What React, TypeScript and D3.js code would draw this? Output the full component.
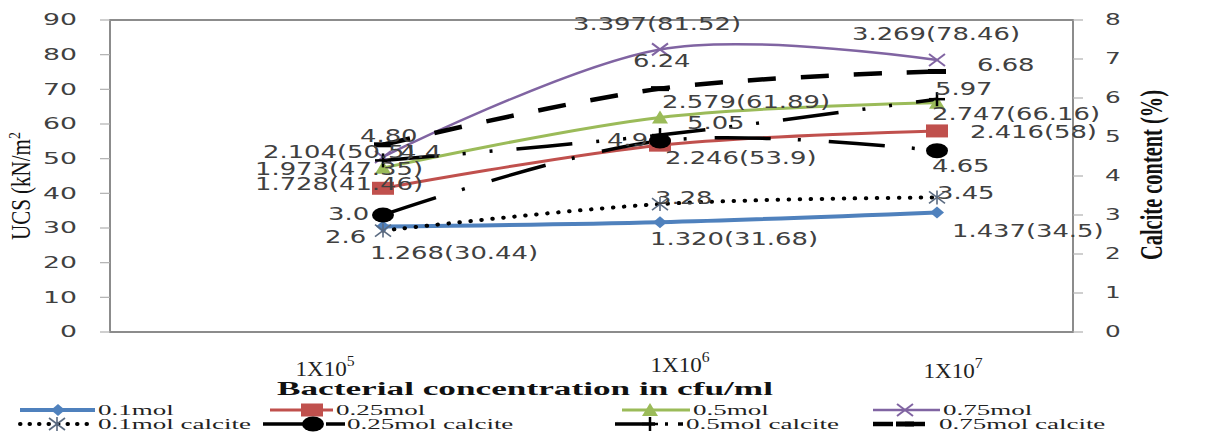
import React from "react";
import * as d3 from "d3";

// ---------- data ----------
const categoryExponents = ["5", "6", "7"];

const ucs01 = [30.44, 31.68, 34.5];
const ucs025 = [41.46, 53.9, 58];
const ucs05 = [47.35, 61.89, 66.16];
const ucs075 = [50.5, 81.52, 78.46];

const ratio01 = [1.268, 1.32, 1.437];
const ratio025 = [1.728, 2.246, 2.416];
const ratio05 = [1.973, 2.579, 2.747];
const ratio075 = [2.104, 3.397, 3.269];

const calc01 = [2.6, 3.28, 3.45];
const calc025 = [3.0, 4.9, 4.65];
const calc05 = [4.4, 5.05, 5.97];
const calc075 = [4.8, 6.24, 6.68];

const calcLabels01 = ["2.6", "3.28", "3.45"];
const calcLabels025 = ["3.0", "4.9", "4.65"];
const calcLabels05 = ["4.4", "5.05", "5.97"];
const calcLabels075 = ["4.80", "6.24", "6.68"];

const leftTicks = [0, 10, 20, 30, 40, 50, 60, 70, 80, 90];
const rightTicks = [0, 1, 2, 3, 4, 5, 6, 7, 8];

// ---------- layout / style ----------
const W = 1208;
const H = 439;
const PL = 110, PR = 1073, PT = 20, PB = 332;

const SANS = "'DejaVu Sans', Verdana, sans-serif";
const SERIF = "'Liberation Serif', 'Times New Roman', serif";

const x = d3.scalePoint<string>().domain(categoryExponents).range([PL + 273, PR - 136]);
const yL = d3.scaleLinear().domain([0, 90]).range([PB, PT]);
const yR = d3.scaleLinear().domain([0, 8]).range([PB, PT]);

type Off = [number, number];

const ucsLabel = (r: number[], v: number[]) => v.map((d, i) => `${r[i].toFixed(3)}(${d})`);

const series = [
  { name: "0.1mol", values: ucs01, y: yL, color: "#4f81bd", width: 4, dash: "", cap: "butt", marker: "diamond",
    labels: ucsLabel(ratio01, ucs01), offsets: [[-13, 33], [-10, 23], [15, 25]] as Off[] },
  { name: "0.25mol", values: ucs025, y: yL, color: "#c0504d", width: 3, dash: "", cap: "butt", marker: "square",
    labels: ucsLabel(ratio025, ucs025), offsets: [[-128, 2], [5, 19], [33, 7]] as Off[] },
  { name: "0.5mol", values: ucs05, y: yL, color: "#9bbb59", width: 3, dash: "", cap: "butt", marker: "triangle",
    labels: ucsLabel(ratio05, ucs05), offsets: [[-128, 7], [2, -9], [-5, 17]] as Off[] },
  { name: "0.75mol", values: ucs075, y: yL, color: "#8064a2", width: 2.5, dash: "", cap: "butt", marker: "xmark",
    labels: ucsLabel(ratio075, ucs075), offsets: [[-120, 1], [-87, -19], [-85, -20]] as Off[] },
  { name: "0.1mol calcite", values: calc01, y: yR, color: "#000000", width: 4, dash: "0.5 10.5", cap: "round", marker: "star",
    labels: calcLabels01, offsets: [[-58, 12], [-5, 0], [0, 2]] as Off[] },
  { name: "0.25mol calcite", values: calc025, y: yR, color: "#000000", width: 3.5, dash: "56 27 3 28", cap: "butt", marker: "circle",
    labels: calcLabels025, offsets: [[-55, 5], [-53, 5], [-5, 21]] as Off[] },
  { name: "0.5mol calcite", values: calc05, y: yR, color: "#000000", width: 3.5, dash: "56 24 3 24 3 24", cap: "butt", marker: "plus",
    labels: calcLabels05, offsets: [[17, -2], [27, -6], [-2, -4]] as Off[] },
  { name: "0.75mol calcite", values: calc075, y: yR, color: "#000000", width: 4.5, dash: "28 25", cap: "butt", marker: "dash",
    labels: calcLabels075, offsets: [[-23, -3], [-27, -22], [40, 0]] as Off[] },
];

// legend layout: [lineX0, lineX1, markerX, textX, row]
const legendLayout: [number, number, number, number, number][] = [
  [20, 95, 58, 98, 0],
  [270, 333, 312, 336, 0],
  [622, 690, 650, 693, 0],
  [873, 940, 905, 943, 0],
  [20, 95, 57, 98, 1],
  [263, 345, 313, 347, 1],
  [615, 683, 650, 686, 1],
  [873, 935, 905, 939, 1],
];
const legendLineY = [410, 424];
const legendTextY = [415, 429];

const xLabelOffsets: Off[] = [[-58, 0], [20, -4], [16, 2]];

function Marker({ type, cx, cy, color }: { type: string; cx: number; cy: number; color: string }) {
  switch (type) {
    case "diamond":
      return <path d={`M${cx - 7},${cy}L${cx},${cy - 6}L${cx + 7},${cy}L${cx},${cy + 6}Z`} fill={color} />;
    case "square":
      return <rect x={cx - 11} y={cy - 6.5} width={22} height={13} fill={color} />;
    case "triangle":
      return <path d={`M${cx - 8},${cy + 6}L${cx},${cy - 7}L${cx + 8},${cy + 6}Z`} fill={color} />;
    case "xmark":
      return (
        <g stroke={color} strokeWidth={2}>
          <line x1={cx - 8} y1={cy - 6} x2={cx + 8} y2={cy + 6} />
          <line x1={cx - 8} y1={cy + 6} x2={cx + 8} y2={cy - 6} />
        </g>
      );
    case "star":
      return (
        <g stroke="#5a6a80" strokeWidth={1.6}>
          <line x1={cx - 8} y1={cy - 6} x2={cx + 8} y2={cy + 6} />
          <line x1={cx - 8} y1={cy + 6} x2={cx + 8} y2={cy - 6} />
          <line x1={cx} y1={cy - 7} x2={cx} y2={cy + 7} />
        </g>
      );
    case "circle":
      return <ellipse cx={cx} cy={cy} rx={11} ry={7.5} fill="#000" />;
    case "plus":
      return (
        <g stroke="#000" strokeWidth={2.5}>
          <line x1={cx - 8} y1={cy} x2={cx + 8} y2={cy} />
          <line x1={cx} y1={cy - 7} x2={cx} y2={cy + 7} />
        </g>
      );
    case "dash":
      return <rect x={cx - 9} y={cy - 2.5} width={18} height={5} fill="#000" />;
    default:
      return null;
  }
}

function SText(props: {
  x: number; y: number; sx: number; size: number; family: string; anchor?: string;
  weight?: string | number; fill?: string; children: React.ReactNode; dy?: string;
}) {
  const { x, y, sx, size, family, anchor = "start", weight = "normal", fill = "#404040", children, dy } = props;
  return (
    <text transform={`translate(${x},${y}) scale(${sx},1)`} fontSize={size} fontFamily={family}
      textAnchor={anchor} fontWeight={weight} fill={fill} dy={dy}>
      {children}
    </text>
  );
}

export default function App() {
  const line = (yScale: d3.ScaleLinear<number, number>) =>
    d3.line<number>()
      .x((_, i) => x(categoryExponents[i]) as number)
      .y((d) => yScale(d))
      .curve(d3.curveCardinal.tension(0));

  return (
    <svg width={W} height={H} style={{ position: "absolute", left: 0, top: 0, background: "#fff" }}>
      <rect x={0} y={0} width={W} height={H} fill="#fff" />
      {/* plot box */}
      <rect x={PL} y={PT} width={PR - PL} height={PB - PT} fill="none" stroke="#8c8c8c" strokeWidth={2} />

      {/* left axis ticks */}
      {leftTicks.map((t) => (
        <g key={"l" + t}>
          <line x1={PL - 10} x2={PL} y1={yL(t)} y2={yL(t)} stroke="#b0b0b0" strokeWidth={1.2} />
          <SText x={77} y={yL(t)} sx={1.78} size={15} family={SANS} anchor="end" dy="0.36em">{t}</SText>
        </g>
      ))}
      {/* right axis ticks */}
      {rightTicks.map((t) => (
        <g key={"r" + t}>
          <line x1={PR} x2={PR + 10} y1={yR(t)} y2={yR(t)} stroke="#b0b0b0" strokeWidth={1.2} />
          <SText x={1105} y={yR(t)} sx={1.65} size={15} family={SANS} anchor="start" dy="0.36em">{t}</SText>
        </g>
      ))}

      {/* x category labels */}
      {categoryExponents.map((c, i) => (
        <text key={"x" + c}
          transform={`translate(${(x(c) as number) + xLabelOffsets[i][0]},${376 + xLabelOffsets[i][1]}) scale(1.05,1)`}
          fontSize={22} fontFamily={SERIF} textAnchor="middle" fill="#222">
          1X10<tspan fontSize={15} dy={-10}>{c}</tspan>
        </text>
      ))}

      {/* axis titles */}
      <text x={277} y={395} fontSize={18} fontWeight="bold" fontFamily={SERIF} fill="#111"
        textLength={496} lengthAdjust="spacingAndGlyphs">Bacterial concentration in cfu/ml</text>
      <text transform={`translate(30,240) scale(1.25,1) rotate(-90)`} fontSize={21} fontFamily={SERIF} fill="#111">
        UCS (kN/m<tspan fontSize={14} dy={-8}>2</tspan>
      </text>
      <text transform={`translate(1162,260) scale(1.6,1) rotate(-90)`} fontSize={20} fontWeight="bold"
        fontFamily={SERIF} fill="#111" textLength={170} lengthAdjust="spacingAndGlyphs">Calcite content (%)</text>

      {/* series lines */}
      {series.map((s) => (
        <path key={"p" + s.name} d={line(s.y)(s.values) || ""} fill="none" stroke={s.color}
          strokeWidth={s.width} strokeDasharray={s.dash || undefined} strokeLinecap={s.cap as any} />
      ))}
      {/* markers */}
      {series.map((s) =>
        s.values.map((v, i) => (
          <Marker key={"m" + s.name + i} type={s.marker} cx={x(categoryExponents[i]) as number} cy={s.y(v)} color={s.color} />
        ))
      )}
      {/* data labels */}
      {series.map((s) =>
        s.values.map((v, i) => (
          <SText key={"t" + s.name + i} x={(x(categoryExponents[i]) as number) + s.offsets[i][0]}
            y={s.y(v) + s.offsets[i][1]} sx={1.52} size={17} family={SANS} fill="#404040">
            {s.labels[i]}
          </SText>
        ))
      )}

      {/* legend */}
      {series.map((s, i) => {
        const [x0, x1, mx, tx, row] = legendLayout[i];
        const ly = legendLineY[row];
        return (
          <g key={"lg" + s.name}>
            <line x1={x0} x2={x1} y1={ly} y2={ly} stroke={s.color} strokeWidth={s.width}
              strokeDasharray={s.dash ? (s.marker === "star" ? "0.5 9" : s.marker === "dash" ? "20 12" : "40 10 3 10") : undefined}
              strokeLinecap={s.cap as any} />
            <Marker type={s.marker} cx={mx} cy={ly} color={s.color} />
            <SText x={tx} y={legendTextY[row]} sx={1.8} size={15} family={SERIF} fill="#222">{s.name}</SText>
          </g>
        );
      })}
    </svg>
  );
}
